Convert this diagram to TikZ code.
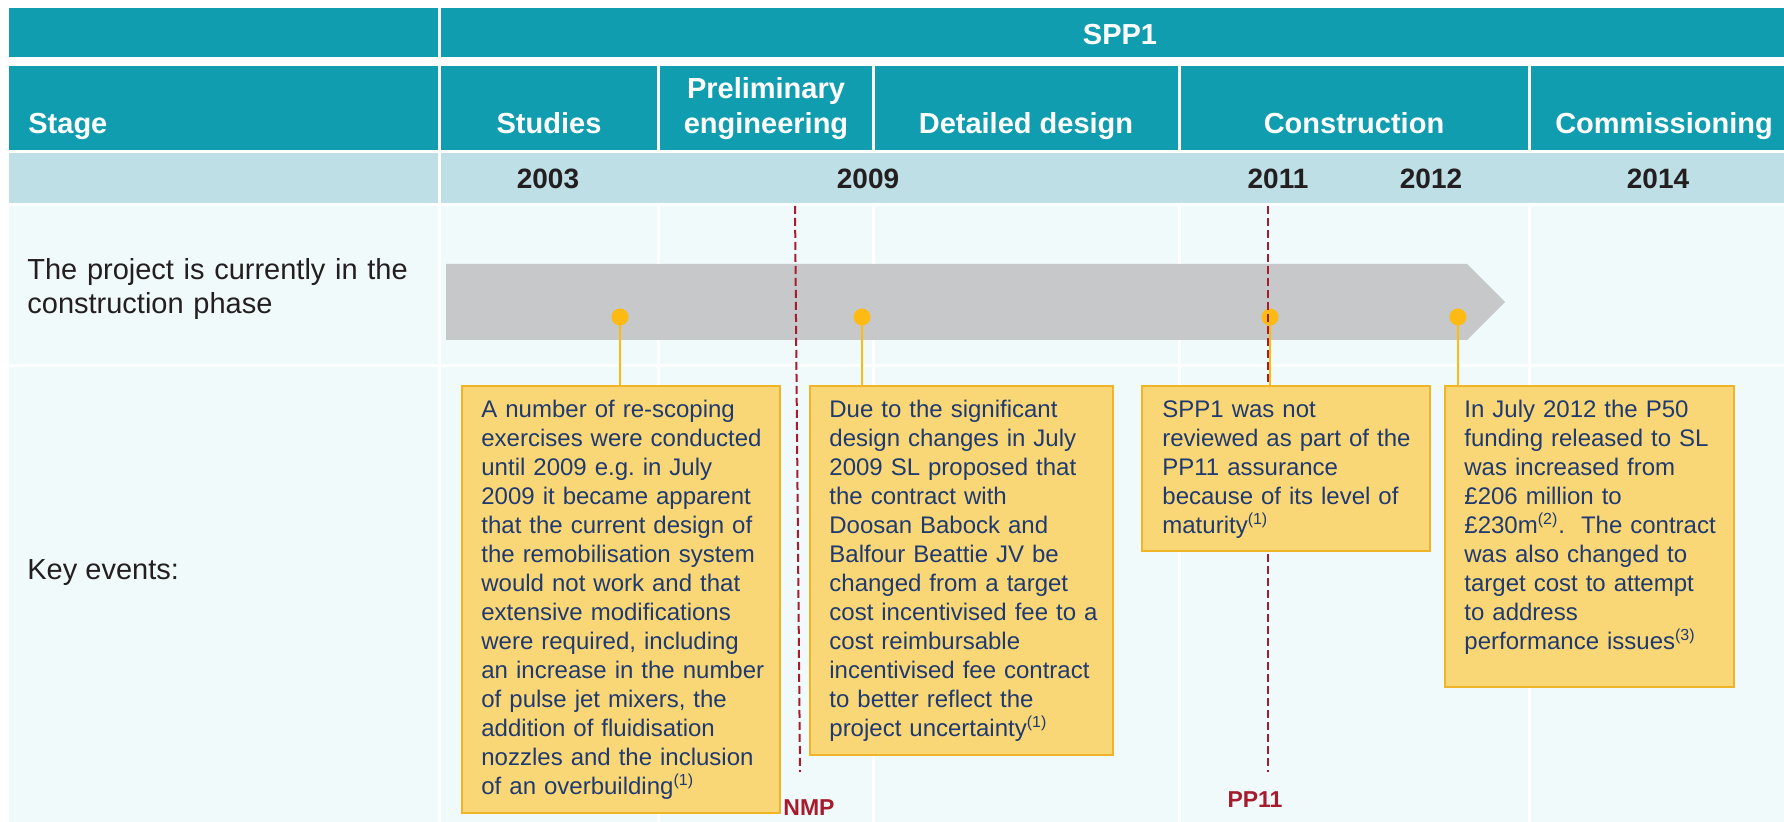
\documentclass[tikz,border=0pt]{standalone}
\usepackage{fontspec}
\setmainfont{Liberation Sans}
\definecolor{tealh}{RGB}{16,157,175}
\definecolor{lightb}{RGB}{190,223,229}
\definecolor{pale}{RGB}{241,250,250}
\definecolor{barg}{RGB}{199,200,202}
\definecolor{boxfill}{RGB}{250,215,118}
\definecolor{boxline}{RGB}{240,180,40}
\definecolor{dotc}{RGB}{253,186,19}
\definecolor{navy}{RGB}{31,58,112}
\definecolor{darkred}{RGB}{166,28,46}
\definecolor{txt}{RGB}{35,31,32}
\begin{document}
\begin{tikzpicture}[x=0.5pt,y=-0.5pt,
  hdr/.style={text=white,inner sep=0pt,font=\fontsize{14.5}{17.5}\selectfont\bfseries},
  yr/.style={text=txt,inner sep=0pt,font=\fontsize{14}{17}\selectfont\bfseries},
  lbl/.style={text=txt,inner sep=0pt,font=\fontsize{14.5}{17}\selectfont},
  evbox/.style={draw=boxline,line width=1pt,fill=boxfill,inner sep=0pt,anchor=north west},
  evtext/.style={text=navy,inner sep=0pt,anchor=north west,align=left,text width=155pt,font=\fontsize{12}{14.5}\selectfont},
  evdot/.style={circle,fill=dotc,inner sep=0pt,minimum size=8.5pt},
  conn/.style={draw=dotc,line width=1pt},
  redd/.style={draw=darkred,line width=1pt,dash pattern=on 4pt off 2pt},
  redlbl/.style={text=darkred,inner sep=0pt,font=\fontsize{11.5}{14}\selectfont\bfseries}]
\useasboundingbox (0,0) rectangle (1784,822);
\fill[white] (0,0) rectangle (1784,822);
% grid cells
\fill[tealh] (9,8) rectangle (437.5,57);
\fill[tealh] (440.5,8) rectangle (1784,57);
\foreach \a/\b in {9/437.5,440.5/656.5,659.5/871.5,874.5/1177.5,1180.5/1527.5,1530.5/1784} {
  \fill[tealh] (\a,66) rectangle (\b,150);
  \fill[pale] (\a,206.5) rectangle (\b,364.5);
  \fill[pale] (\a,367.5) rectangle (\b,822);
}
\fill[lightb] (9,153) rectangle (437.5,203.5);
\fill[lightb] (440.5,153) rectangle (1784,203.5);
% header texts
\node[hdr,anchor=base] (spp) at (1120,45) {SPP1};
\node[hdr,anchor=base west] (stage) at (28,134) {Stage};
\node[hdr,anchor=base] (studies) at (549,134) {Studies};
\node[hdr,anchor=south,align=center] (prelim) at (766,140) {Preliminary\\engineering};
\node[hdr,anchor=base] (detail) at (1026,134) {Detailed design};
\node[hdr,anchor=base] (constr) at (1354,134) {Construction};
\node[hdr,anchor=base] (comm) at (1664,134) {Commissioning};
% years
\node[yr,anchor=base] (y2003) at (548,189) {2003};
\node[yr,anchor=base] (y2009) at (868,189) {2009};
\node[yr,anchor=base] (y2011) at (1278,189) {2011};
\node[yr,anchor=base] (y2012) at (1431,189) {2012};
\node[yr,anchor=base] (y2014) at (1658,189) {2014};
% row labels
\node[lbl,anchor=north west,align=left,text width=210pt] (cur) at (27,257) {\rule{0pt}{11pt}The project is currently in the\\construction phase};
\node[lbl,anchor=base west] (key) at (27,580) {Key events:};
% progress bar
\fill[barg] (446,264) -- (1467,264) -- (1505,302) -- (1467,340) -- (446,340) -- cycle;
% dots
\node[evdot] (d1) at (620,317) {};
\node[evdot] (d2) at (862,317) {};
\node[evdot] (d3) at (1270,317) {};
\node[evdot] (d4) at (1458,317) {};
% box anchors and connectors
\path (461,385) coordinate (b1nw) (809,385) coordinate (b2nw) (1141,385) coordinate (b3nw) (1444,385) coordinate (b4nw);
\draw[conn] (d1.center) -- (d1.center |- b1nw);
\draw[conn] (d2.center) -- (d2.center |- b2nw);
\draw[conn] (d3.center) -- (d3.center |- b3nw);
\draw[conn] (d4.center) -- (d4.center |- b4nw);
% milestone lines
\coordinate (nmpTop) at (795,206);
\coordinate (nmpBot) at (800,772);
\coordinate (ppTop) at (1268,206);
\coordinate (ppBot) at (1268,772);
\draw[redd] (nmpTop) -- (nmpBot);
\draw[redd] (ppTop) -- (ppBot);
\node[redlbl] (nmp) at (809,808) {NMP};
\node[redlbl] (pp11) at (1255,800) {PP11};
% event boxes
\node[evbox,minimum width=159pt,minimum height=213.5pt] (b1) at (b1nw) {};
\node[evbox,minimum width=151.5pt,minimum height=184.5pt] (b2) at (b2nw) {};
\node[evbox,minimum width=144pt,minimum height=82.5pt] (b3) at (b3nw) {};
\node[evbox,minimum width=144.5pt,minimum height=150.5pt] (b4) at (b4nw) {};
\node[evtext] (t1) at (481,399) {\rule{0pt}{9pt}A number of re-scoping\\exercises were conducted\\until 2009 e.g.\ in July\\2009 it became apparent\\that the current design of\\the remobilisation system\\would not work and that\\extensive modifications\\were required, including\\an increase in the number\\of pulse jet mixers, the\\addition of fluidisation\\nozzles and the inclusion\\of an overbuilding\textsuperscript{(1)}};
\node[evtext] (t2) at (829,399) {\rule{0pt}{9pt}Due to the significant\\design changes in July\\2009 SL proposed that\\the contract with\\Doosan Babock and\\Balfour Beattie JV be\\changed from a target\\cost incentivised fee to a\\cost reimbursable\\incentivised fee contract\\to better reflect the\\project uncertainty\textsuperscript{(1)}};
\node[evtext] (t3) at (1162,399) {\rule{0pt}{9pt}SPP1 was not\\reviewed as part of the\\PP11 assurance\\because of its level of\\maturity\textsuperscript{(1)}};
\node[evtext] (t4) at (1464,399) {\rule{0pt}{9pt}In July 2012 the P50\\funding released to SL\\was increased from\\£206 million to\\£230m\textsuperscript{(2)}.\ \ The contract\\was also changed to\\target cost to attempt\\to address\\performance issues\textsuperscript{(3)}};
\end{tikzpicture}
\end{document}
